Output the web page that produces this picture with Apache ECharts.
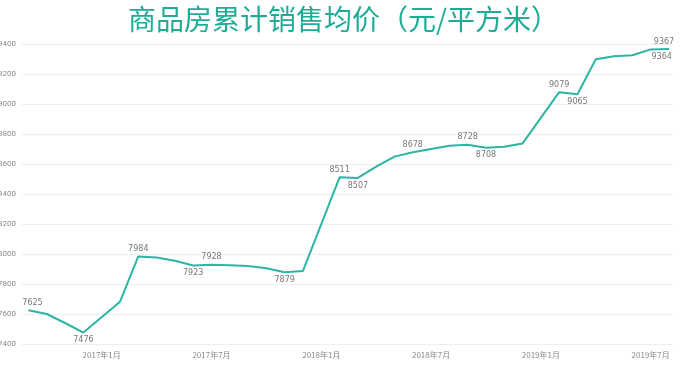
<!DOCTYPE html>
<html><head><meta charset="utf-8">
<script src="https://cdn.jsdelivr.net/npm/echarts@6/dist/echarts.min.js"></script>
<style>html,body{margin:0;padding:0;background:#fff}#c{width:700px;height:372px}</style>
</head><body><div id="c"></div>
<script>
// Monthly periods (cumulative average price); January not published
const months = ['2016-09','2016-10','2016-11','2016-12','2017-01','2017-02','2017-03','2017-04','2017-05','2017-06','2017-07','2017-08','2017-09','2017-10','2017-11','2017-12','2018-01','2018-02','2018-03','2018-04','2018-05','2018-06','2018-07','2018-08','2018-09','2018-10','2018-11','2018-12','2019-01','2019-02','2019-03','2019-04','2019-05','2019-06','2019-07','2019-08'];
const prices = [7625,7600,7540,7476,null,7682,7984,7976,7955,7923,7928,7925,7920,7905,7879,7887,null,8511,8507,8582,8649,8678,8700,8722,8728,8708,8715,8737,null,9079,9065,9298,9318,9325,9364,9367];
const tickMonths = ['2017-01','2017-07','2018-01','2018-07','2019-01','2019-07'];
const yTicks = [7400,7600,7800,8000,8200,8400,8600,8800,9000,9200,9400];
const labelAbove = ['2016-09','2017-03','2017-07','2018-02','2018-06','2018-09','2019-02','2019-08'];
const labelBelow = ['2016-12','2017-06','2017-11','2018-03','2018-10','2019-03','2019-07'];
const title = '商品房累计销售均价（元/平方米）';

const fmtMonth = m => { const [y, mo] = m.split('-'); return y + '年' + parseInt(mo, 10) + '月'; };
const labelShift = { '2019-07': 11, '2019-08': -5, '2016-09': 4 };

const data = months.map((m, i) => {
  const item = { value: [i, prices[i]] };
  if (labelAbove.includes(m) || labelBelow.includes(m)) {
    item.label = { show: true, position: labelAbove.includes(m) ? 'top' : 'bottom', distance: 3 };
  }
  return item;
});

const chart = echarts.init(document.getElementById('c'), null, { renderer: 'canvas' });
chart.setOption({
  animation: false,
  backgroundColor: '#ffffff',
  title: {
    text: title, left: 123, top: 0,
    textStyle: { fontFamily: 'Noto Sans CJK SC', fontSize: 28, fontWeight: 'normal', color: '#1eac96' }
  },
  grid: { left: 22, right: 27, top: 44, bottom: 28, containLabel: false, outerBoundsMode: 'none' },
  xAxis: {
    type: 'value', min: -0.355, max: 35.22,
    splitLine: { show: false }, axisLine: { show: false }, axisTick: { show: false },
    axisLabel: {
      customValues: tickMonths.map(m => months.indexOf(m)),
      formatter: v => fmtMonth(months[Math.round(v)]),
      color: '#8a8a8a', fontSize: 8, margin: 7, fontFamily: 'Noto Sans CJK SC'
    }
  },
  yAxis: {
    type: 'value', min: yTicks[0], max: yTicks[yTicks.length - 1], interval: 200,
    axisLine: { show: false }, axisTick: { show: false },
    splitLine: { lineStyle: { color: '#eeeeee', width: 1 } },
    axisLabel: { color: '#8a8a8a', fontSize: 8, margin: 6, fontFamily: 'Roboto', formatter: v => String(v) }
  },
  series: [{
    type: 'line', data: data, connectNulls: true, showSymbol: true, symbol: 'circle', symbolSize: 1,
    lineStyle: { color: '#2bb5a2', width: 2 },
    itemStyle: { color: 'rgba(0,0,0,0)', borderWidth: 0 },
    label: { show: false, color: '#777777', fontSize: 8, fontFamily: 'DejaVu Sans', formatter: p => p.value[1] },
    labelLayout: p => ({ hideOverlap: false, dx: labelShift[months[p.dataIndex]] || 0 })
  }]
});
</script></body></html>
